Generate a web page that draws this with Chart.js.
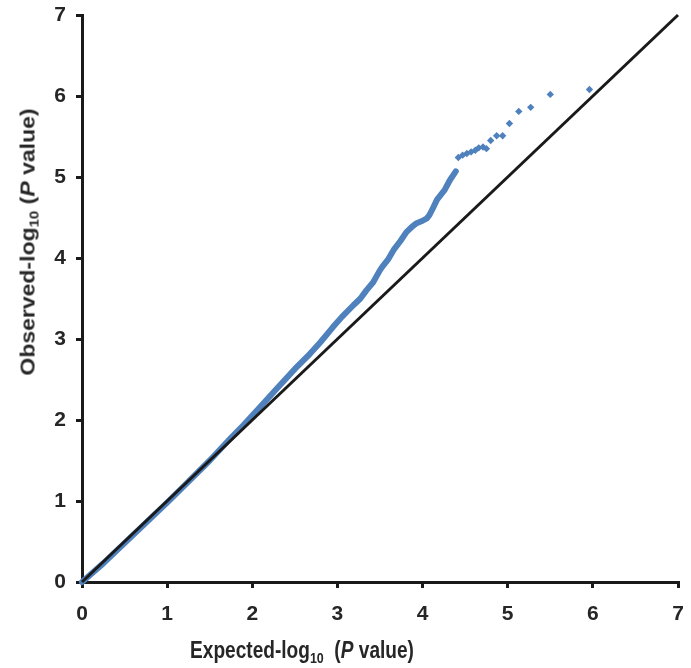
<!DOCTYPE html>
<html>
<head>
<meta charset="utf-8">
<script src="https://cdn.jsdelivr.net/npm/chart.js@4/dist/chart.umd.min.js"></script>
<style>
  body { margin: 0; background: #fff; }
  #wrap { position: relative; width: 691px; height: 668px; }
  .axtitle { position: absolute; font-family: "Liberation Sans", Arial, sans-serif; font-weight: bold; font-size: 23px; color: #262626; white-space: nowrap; }
  .axtitle sub { font-size: 15px; vertical-align: -5px; line-height: 0; }
  #ytitle { left: 28px; top: 242px; transform: translate(-50%, -50%) rotate(-90deg) scaleY(0.85); }
  #xtitle { left: 302px; top: 650px; transform: translate(-50%, -50%) scaleX(0.83); }
</style>
</head>
<body>
<div id="wrap">
  <canvas id="chart" width="691" height="668"></canvas>
  <div class="axtitle" id="ytitle">Observed-log<sub>10</sub> (<i>P</i> value)</div>
  <div class="axtitle" id="xtitle">Expected-log<sub>10</sub> &nbsp;(<i>P</i> value)</div>
</div>
<script>
// tick labels
const ticks = [0, 1, 2, 3, 4, 5, 6, 7];

// reference line (expected = observed)
const diagX = [0, 7];
const diagY = [0, 7];

// dense part of the QQ curve (expected, observed)
const denseX = [0, 0.25, 0.5, 0.75, 1.0, 1.25, 1.5, 1.75, 1.9, 2.1, 2.3, 2.5, 2.68, 2.8, 2.95, 3.05, 3.19, 3.27, 3.34, 3.42, 3.5, 3.54, 3.6, 3.66, 3.74, 3.81, 3.87, 3.93, 4.0, 4.05, 4.08, 4.11, 4.17, 4.26, 4.32, 4.39];
const denseY = [0, 0.23, 0.48, 0.73, 0.98, 1.24, 1.5, 1.78, 1.94, 2.17, 2.4, 2.63, 2.82, 2.96, 3.15, 3.27, 3.42, 3.5, 3.6, 3.7, 3.85, 3.91, 3.99, 4.1, 4.21, 4.32, 4.38, 4.43, 4.46, 4.49, 4.53, 4.59, 4.72, 4.84, 4.96, 5.07];

// sparse tail points
const tailX = [4.42, 4.47, 4.52, 4.57, 4.62, 4.66, 4.71, 4.75, 4.80, 4.87, 4.94, 5.02, 5.13, 5.27, 5.50, 5.96];
const tailY = [5.24, 5.27, 5.29, 5.31, 5.33, 5.36, 5.37, 5.35, 5.45, 5.51, 5.51, 5.66, 5.81, 5.86, 6.02, 6.08];

const toPts = (xs, ys) => xs.map((x, i) => ({ x: x, y: ys[i] }));

const blue = '#4F81BD';
const ink = '#1a1a1a';
const labelFont = { family: '"Liberation Sans", Arial, sans-serif', size: 21, weight: 'bold' };

const axis = (pos) => ({
   type: 'linear',
   position: pos,
   min: 0,
   max: 7,
   afterBuildTicks: s => { s.ticks = ticks.map(v => ({ value: v })); },
   border: { display: true, color: ink, width: 3 },
   grid: { display: true, drawOnChartArea: false, drawTicks: true, tickLength: 6, color: ink, lineWidth: 3 },
   ticks: { color: '#262626', font: labelFont, padding: pos === 'left' ? 10 : 14 },
   afterFit: s => {
      if (pos === 'left') s.width = 82;
      else s.height = 86;
      // let the layout padding alone decide the plot edges
      s.paddingLeft = s.paddingRight = s.paddingTop = s.paddingBottom = 0;
   }
});

new Chart(document.getElementById('chart'), {
   type: 'scatter',
   data: {
      datasets: [
         {
            type: 'line',
            data: toPts(diagX, diagY),
            borderColor: ink,
            borderWidth: 3,
            pointRadius: 0,
            order: 0
         },
         {
            type: 'line',
            data: toPts(denseX, denseY),
            borderColor: blue,
            borderWidth: 6,
            borderCapStyle: 'round',
            borderJoinStyle: 'round',
            pointRadius: 0,
            order: 1
         },
         {
            data: toPts(tailX, tailY),
            pointStyle: 'rectRot',
            pointRadius: 3.7,
            backgroundColor: blue,
            borderColor: blue,
            borderWidth: 0,
            order: 2
         }
      ]
   },
   options: {
      responsive: false,
      animation: false,
      clip: false,
      layout: { padding: { left: 0, top: 15, right: 13, bottom: 0 } },
      plugins: { legend: { display: false }, tooltip: { enabled: false } },
      scales: {
         x: axis('bottom'),
         y: axis('left')
      }
   }
});
</script>
</body>
</html>
